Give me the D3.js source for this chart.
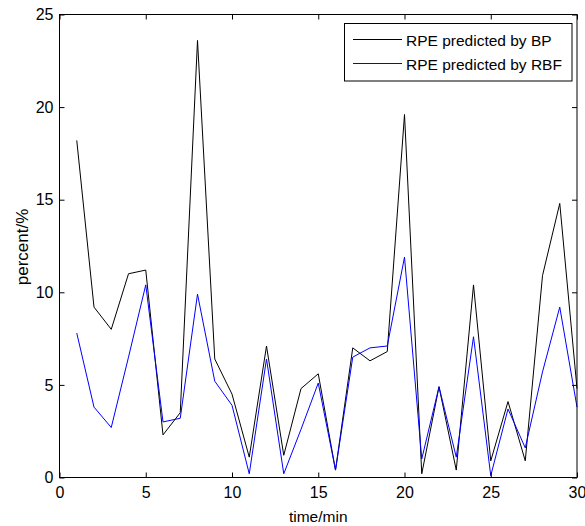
<!DOCTYPE html>
<html>
<head>
<meta charset="utf-8">
<script src="https://cdn.jsdelivr.net/npm/d3@7"></script>
<style>
  body { margin: 0; background: #fff; }
  text { font-family: "Liberation Sans", Arial, sans-serif; }
</style>
</head>
<body>
<script>
// time in minutes
var times = d3.range(1, 31);
var bpValues = [18.2, 9.2, 8.0, 11.0, 11.2, 2.3, 3.5, 23.6, 6.4, 4.5,
                1.1, 7.1, 1.2, 4.8, 5.6, 0.4, 7.0, 6.3, 6.8, 19.6,
                0.2, 4.9, 0.4, 10.4, 0.9, 4.1, 0.9, 10.9, 14.8, 4.8];
var rbfValues = [7.8, 3.8, 2.7, 6.5, 10.4, 3.0, 3.2, 9.9, 5.2, 3.9,
                 0.2, 6.4, 0.2, 2.6, 5.1, 0.4, 6.5, 7.0, 7.1, 11.9,
                 1.0, 4.9, 1.1, 7.6, 0.1, 3.7, 1.6, 5.7, 9.2, 3.8];
var xTicks = [0, 5, 10, 15, 20, 25, 30];
var yTicks = [0, 5, 10, 15, 20, 25];
var seriesNames = ["RPE predicted by BP", "RPE predicted by RBF"];
var seriesColors = ["#000000", "#0000ff"];

var w = 585, h = 526;
var plotL = 59.5, plotR = 577, plotT = 14.5, plotB = 477.5;

var svg = d3.select("body").append("svg")
  .attr("width", w)
  .attr("height", h);

var x = d3.scaleLinear().domain([0, 30]).range([plotL, plotR]);
var y = d3.scaleLinear().domain([0, 25]).range([plotB, plotT]);

// data lines
var lineGen = d3.line()
  .x(function(d, i) { return x(times[i]); })
  .y(function(d) { return y(d); });

[bpValues, rbfValues].forEach(function(vals, k) {
  svg.append("path")
    .datum(vals)
    .attr("d", lineGen)
    .attr("fill", "none")
    .attr("stroke", seriesColors[k])
    .attr("stroke-width", 1);
});

// axes, matlab style with inward ticks on all sides
function styleAxis(g) {
  g.select(".domain").remove();
  g.selectAll("line").attr("stroke", "#000");
  g.selectAll("text")
    .attr("font-size", "16px")
    .attr("fill", "#000");
}

svg.append("g")
  .attr("transform", "translate(0," + plotB + ")")
  .call(d3.axisBottom(x).tickValues(xTicks).tickSizeInner(-5).tickPadding(9).tickFormat(d3.format("d")))
  .call(styleAxis);

svg.append("g")
  .attr("transform", "translate(0," + plotT + ")")
  .call(d3.axisTop(x).tickValues(xTicks).tickSizeInner(-5).tickFormat(""))
  .call(styleAxis);

svg.append("g")
  .attr("transform", "translate(" + plotL + ",0)")
  .call(d3.axisLeft(y).tickValues(yTicks).tickSizeInner(-5).tickPadding(6).tickFormat(d3.format("d")))
  .call(styleAxis);

svg.append("g")
  .attr("transform", "translate(" + plotR + ",0)")
  .call(d3.axisRight(y).tickValues(yTicks).tickSizeInner(-5).tickFormat(""))
  .call(styleAxis);

svg.append("rect")
  .attr("x", plotL)
  .attr("y", plotT)
  .attr("width", plotR - plotL)
  .attr("height", plotB - plotT)
  .attr("fill", "none")
  .attr("stroke", "#000");

// axis labels
svg.append("text")
  .attr("x", (plotL + plotR) / 2)
  .attr("y", 522)
  .attr("text-anchor", "middle")
  .attr("font-size", "15.5px")
  .text("time/min");

svg.append("text")
  .attr("transform", "translate(28,247) rotate(-90)")
  .attr("text-anchor", "middle")
  .attr("font-size", "17px")
  .text("percent/%");

// legend
var legend = svg.append("g");
legend.append("rect")
  .attr("x", 344.5)
  .attr("y", 23.5)
  .attr("width", 227.5)
  .attr("height", 57.5)
  .attr("fill", "#fff")
  .attr("stroke", "#000");

seriesNames.forEach(function(name, k) {
  var ly = 39.5 + k * 24;
  legend.append("line")
    .attr("x1", 353).attr("x2", 402)
    .attr("y1", ly).attr("y2", ly)
    .attr("stroke", seriesColors[k]);
  legend.append("text")
    .attr("x", 406)
    .attr("y", ly + 6)
    .attr("font-size", "15.5px")
    .text(name);
});
</script>
</body>
</html>
